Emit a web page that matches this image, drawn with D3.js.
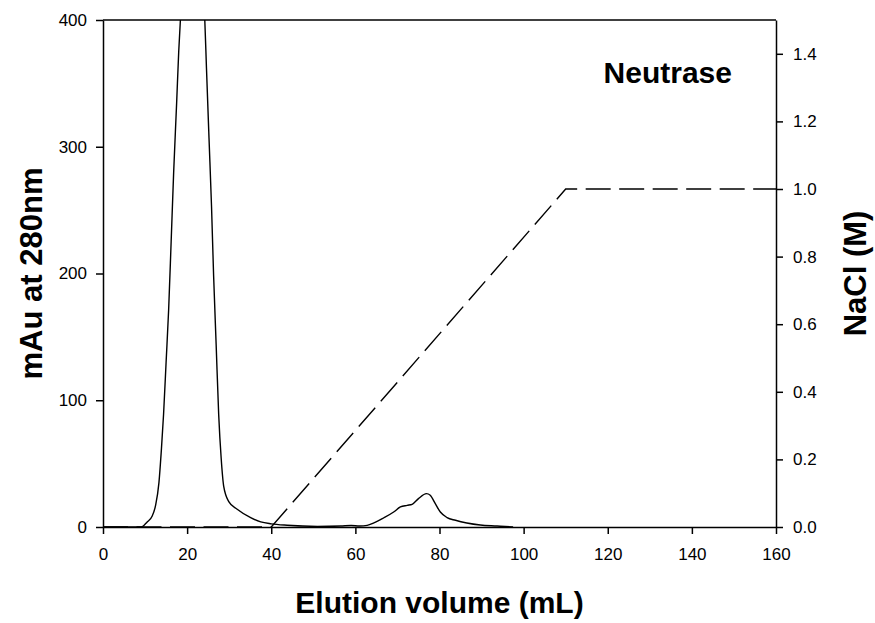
<!DOCTYPE html>
<html><head><meta charset="utf-8">
<script src="https://cdn.jsdelivr.net/npm/d3@7"></script>
<style>
body{margin:0;background:#fff;}
svg{display:block;font-family:"Liberation Sans",Arial,sans-serif;}
</style></head>
<body><svg id="c" width="875" height="623"></svg>
<script>
// Absorbance trace (mAu at 280 nm) vs elution volume (mL)
const volume = [0, 5, 9.1, 10.5, 11.7, 12.5, 13.3, 13.9, 14.4, 15.0, 15.6, 16.2, 16.8, 17.5, 18.0, 18.4, 19.5, 21, 22.5, 23.6, 24.2, 24.6, 25.2, 25.8, 26.3, 26.9, 27.5, 28.1, 28.7, 29.9, 31.9, 35.1, 37.5, 40, 43.8, 51, 56.5, 59, 61, 62.8, 64.4, 66.7, 69.1, 70.7, 72.3, 73.5, 75.0, 76.9, 77.8, 79.0, 80.2, 81.8, 83.8, 86.5, 89.7, 93.7, 97.5];
const absorbance = [0, 0, 0, 4, 8.7, 17, 35, 62, 89, 130, 171, 225, 280, 334, 375, 400, 450, 480, 470, 430, 400, 362, 307, 253, 198, 144, 89, 54, 32, 20, 14, 7.4, 4, 2.5, 1.4, 0.5, 0.8, 1.2, 0.8, 1.3, 3.2, 7.1, 11.8, 15.8, 17.1, 17.9, 22.4, 26.3, 25, 18.4, 11.8, 7.4, 5.3, 3.2, 1.6, 0.8, 0];
// NaCl gradient
const naclVolume = [0, 40, 110, 160];
const nacl = [0, 0, 1.0, 1.0];
// ticks
const xTicks = [0, 20, 40, 60, 80, 100, 120, 140, 160];
const yLeftTicks = [0, 100, 200, 300, 400];
const yRightTicks = [0.0, 0.2, 0.4, 0.6, 0.8, 1.0, 1.2, 1.4];

const svg = d3.select("#c");
const L = 103, R = 776, T = 20, B = 527;
const x = d3.scaleLinear().domain([0, 160]).range([L, R]);
const yL = d3.scaleLinear().domain([0, 400]).range([B, T]);
const yR = d3.scaleLinear().domain([0, 1.5]).range([B, T]);

svg.append("defs").append("clipPath").attr("id", "clip")
  .append("rect").attr("x", L).attr("y", T).attr("width", R - L).attr("height", B - T);

const g = svg.append("g").attr("clip-path", "url(#clip)");

const absData = volume.map((v, i) => [v, absorbance[i]]);
g.append("path").datum(absData)
  .attr("fill", "none").attr("stroke", "#000").attr("stroke-width", 1.4)
  .attr("d", d3.line().x(d => x(d[0])).y(d => yL(d[1])).curve(d3.curveMonotoneX));

const naclData = naclVolume.map((v, i) => [v, nacl[i]]);
g.append("path").datum(naclData)
  .attr("fill", "none").attr("stroke", "#000").attr("stroke-width", 1.4)
  .attr("stroke-dasharray", "25,8.5")
  .attr("d", d3.line().x(d => x(d[0])).y(d => yR(d[1])));

// top frame
svg.append("line").attr("x1", L).attr("x2", R).attr("y1", T).attr("y2", T)
  .attr("stroke", "#000").attr("stroke-width", 1.5);

function styleAxis(sel) {
  sel.select(".domain").attr("stroke", "#000").attr("stroke-width", 1.5);
  sel.selectAll(".tick line").attr("stroke", "#000").attr("stroke-width", 1.5);
  sel.selectAll(".tick text").attr("fill", "#000").style("font-size", "17px");
}

const xAx = svg.append("g").attr("transform", `translate(0,${B})`)
  .call(d3.axisBottom(x).tickValues(xTicks).tickSize(7).tickSizeOuter(0).tickPadding(14).tickFormat(d3.format("d")));
styleAxis(xAx);

const yLAx = svg.append("g").attr("transform", `translate(${L},0)`)
  .call(d3.axisLeft(yL).tickValues(yLeftTicks).tickSize(7).tickSizeOuter(0).tickPadding(9).tickFormat(d3.format("d")));
styleAxis(yLAx);

const yRAx = svg.append("g").attr("transform", `translate(${R},0)`)
  .call(d3.axisRight(yR).tickValues(yRightTicks).tickSize(7).tickSizeOuter(0).tickPadding(10).tickFormat(d3.format(".1f")));
styleAxis(yRAx);

svg.append("text").attr("x", (L + R) / 2).attr("y", 613)
  .attr("text-anchor", "middle").style("font-size", "30px").style("font-weight", "bold")
  .text("Elution volume (mL)");

svg.append("text").attr("transform", `translate(42,${(T + B) / 2}) rotate(-90)`)
  .attr("text-anchor", "middle").style("font-size", "31px").style("font-weight", "bold")
  .text("mAu at 280nm");

svg.append("text").attr("transform", `translate(866,${(T + B) / 2}) rotate(-90)`)
  .attr("text-anchor", "middle").style("font-size", "31px").style("font-weight", "bold")
  .text("NaCl (M)");

svg.append("text").attr("x", 732).attr("y", 83)
  .attr("text-anchor", "end").style("font-size", "30px").style("font-weight", "bold")
  .text("Neutrase");
</script></body></html>
